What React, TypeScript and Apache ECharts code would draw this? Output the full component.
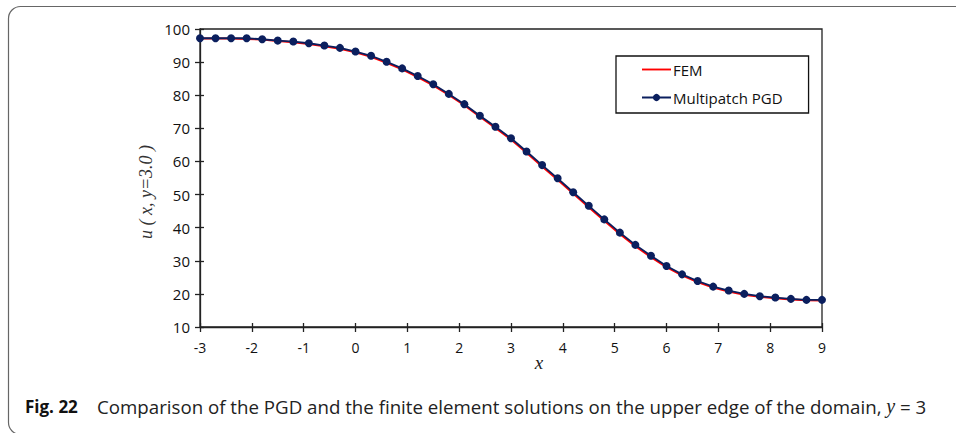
import React, { useEffect, useRef } from "react";
import * as echarts from "echarts";

const xValues = [
  -3.0, -2.7, -2.4, -2.1, -1.8, -1.5, -1.2, -0.9, -0.6, -0.3, 0.0,
  0.3, 0.6, 0.9, 1.2, 1.5, 1.8, 2.1, 2.4, 2.7, 3.0,
  3.3, 3.6, 3.9, 4.2, 4.5, 4.8, 5.1, 5.4, 5.7, 6.0,
  6.3, 6.6, 6.9, 7.2, 7.5, 7.8, 8.1, 8.4, 8.7, 9.0,
];

const pgdValues = [
  97.2, 97.2, 97.2, 97.2, 96.9, 96.5, 96.2, 95.7, 95.0, 94.3, 93.2,
  91.9, 90.1, 88.1, 85.8, 83.3, 80.4, 77.3, 73.8, 70.5, 67.0,
  63.0, 58.9, 54.9, 50.7, 46.6, 42.5, 38.5, 34.8, 31.5, 28.4,
  25.9, 23.9, 22.2, 21.0, 20.0, 19.3, 18.9, 18.5, 18.2, 18.2,
];

const femValues = [
  97.1, 97.1, 97.1, 97.0, 96.8, 96.4, 96.0, 95.5, 94.8, 94.0, 93.0,
  91.6, 89.8, 87.8, 85.5, 83.0, 80.1, 77.0, 73.5, 70.1, 66.6,
  62.6, 58.5, 54.5, 50.3, 46.2, 42.1, 38.1, 34.4, 31.1, 28.1,
  25.6, 23.6, 21.9, 20.7, 19.7, 19.1, 18.7, 18.3, 18.1, 18.0,
];

const seriesNames = ["FEM", "Multipatch PGD"];
const yAxisTitle = "u ( x, y=3.0 )";
const xAxisTitle = "x";
const figLabel = "Fig. 22";
const captionText = "Comparison of the PGD and the finite element solutions on the upper edge of the domain, ";

const NAVY = "#0b1f5e";
const AXIS = "#222";
const LABEL_FONT = "'Open Sans', 'Noto Sans', sans-serif";

export default function App() {
  const ref = useRef<HTMLDivElement>(null);

  useEffect(() => {
    if (!ref.current) return;
    const chart = echarts.init(ref.current, undefined, { renderer: "svg" });
    const femData = xValues.map((x, i) => [x, femValues[i]]);
    const pgdData = xValues.map((x, i) => [x, pgdValues[i]]);

    const commonX = { type: "value", min: -3, max: 9, interval: 1 };
    const commonY = { type: "value", min: 10, max: 100, interval: 10 };

    chart.setOption({
      animation: false,
      backgroundColor: "#fff",
      grid: {
        left: 200,
        right: 134,
        top: 29,
        bottom: 106,
        show: true,
        borderColor: AXIS,
        borderWidth: 1.3,
        backgroundColor: "transparent",
      },
      legend: {
        orient: "vertical",
        left: 616,
        top: 56,
        data: [
          { name: seriesNames[0], icon: "path://M0,0L40,0L40,2.6L0,2.6Z" },
          { name: seriesNames[1] },
        ],
        itemWidth: 29,
        itemHeight: 9,
        itemGap: 13,
        padding: [6, 26, 8, 25],
        borderColor: "#111",
        borderWidth: 1.3,
        backgroundColor: "#fff",
        textStyle: {
          fontFamily: LABEL_FONT,
          fontSize: 15,
          color: "#111",
          padding: [0, 0, 0, -3],
        },
      },
      xAxis: [
        {
          ...commonX,
          position: "bottom",
          axisLine: { show: true, onZero: false, lineStyle: { color: AXIS, width: 1.3 } },
          axisTick: { show: true, inside: false, length: 5, lineStyle: { color: AXIS, width: 1.3 } },
          axisLabel: {
            margin: 13,
            fontFamily: LABEL_FONT,
            fontSize: 14,
            color: "#111",
          },
          splitLine: { show: false },
        },
        {
          ...commonX,
          position: "bottom",
          axisLine: { show: false, onZero: false },
          axisTick: { show: true, inside: true, length: 4, lineStyle: { color: AXIS, width: 1.3 } },
          axisLabel: { show: false },
          splitLine: { show: false },
        },
      ],
      yAxis: [
        {
          ...commonY,
          position: "left",
          axisLine: { show: true, onZero: false, lineStyle: { color: AXIS, width: 1.3 } },
          axisTick: { show: true, inside: false, length: 5, lineStyle: { color: AXIS, width: 1.3 } },
          axisLabel: {
            margin: 10,
            fontFamily: LABEL_FONT,
            fontSize: 15,
            color: "#111",
          },
          splitLine: { show: false },
        },
        {
          ...commonY,
          position: "left",
          axisLine: { show: false, onZero: false },
          axisTick: { show: true, inside: true, length: 4, lineStyle: { color: AXIS, width: 1.3 } },
          axisLabel: { show: false },
          splitLine: { show: false },
        },
      ],
      series: [
        {
          name: seriesNames[0],
          type: "line",
          data: femData,
          xAxisIndex: 0,
          yAxisIndex: 0,
          symbol: "none",
          lineStyle: { color: "#ff0000", width: 2 },
          itemStyle: { color: "#ff0000" },
          z: 2,
        },
        {
          name: seriesNames[1],
          type: "line",
          data: pgdData,
          xAxisIndex: 0,
          yAxisIndex: 0,
          symbol: "circle",
          symbolSize: 8,
          lineStyle: { color: NAVY, width: 1.8 },
          itemStyle: { color: NAVY },
          z: 3,
        },
      ],
      graphic: [
        {
          type: "rect",
          silent: true,
          shape: { x: 8.5, y: 6.5, width: 1000, height: 428, r: [12, 0, 0, 12] },
          style: { fill: "none", stroke: "#666", lineWidth: 1.2 },
          z: -10,
        },
        {
          type: "text",
          x: 146,
          y: 192,
          rotation: Math.PI / 2,
          style: {
            text: yAxisTitle,
            fontFamily: "'Liberation Serif', 'DejaVu Serif', serif",
            fontStyle: "italic",
            fontSize: 18,
            fill: "#333",
            align: "center",
            verticalAlign: "middle",
          },
        },
        {
          type: "text",
          x: 539,
          y: 362,
          style: {
            text: xAxisTitle,
            fontFamily: "'Liberation Serif', 'DejaVu Serif', serif",
            fontStyle: "italic",
            fontSize: 19,
            fill: "#222",
            align: "center",
            verticalAlign: "middle",
          },
        },
        {
          type: "text",
          x: 25,
          y: 406,
          style: {
            text: figLabel,
            fontFamily: "'Open Sans', 'Noto Sans', sans-serif",
            fontWeight: "bold",
            fontSize: 17,
            fill: "#111",
            align: "left",
            verticalAlign: "middle",
          },
        },
        {
          type: "text",
          x: 97,
          y: 406,
          style: {
            text: captionText + "{i|y} = 3",
            fontFamily: "'Open Sans', sans-serif",
            fontSize: 18.7,
            fill: "#222",
            align: "left",
            verticalAlign: "middle",
            rich: {
              i: {
                fontFamily: "'Liberation Serif', serif",
                fontStyle: "italic",
                fontSize: 20,
                fill: "#222",
              },
            },
          },
        },
      ],
    });

    return () => chart.dispose();
  }, []);

  return (
    <div
      ref={ref}
      style={{ position: "fixed", left: 0, top: 0, width: 956, height: 433, background: "#fff" }}
    />
  );
}
